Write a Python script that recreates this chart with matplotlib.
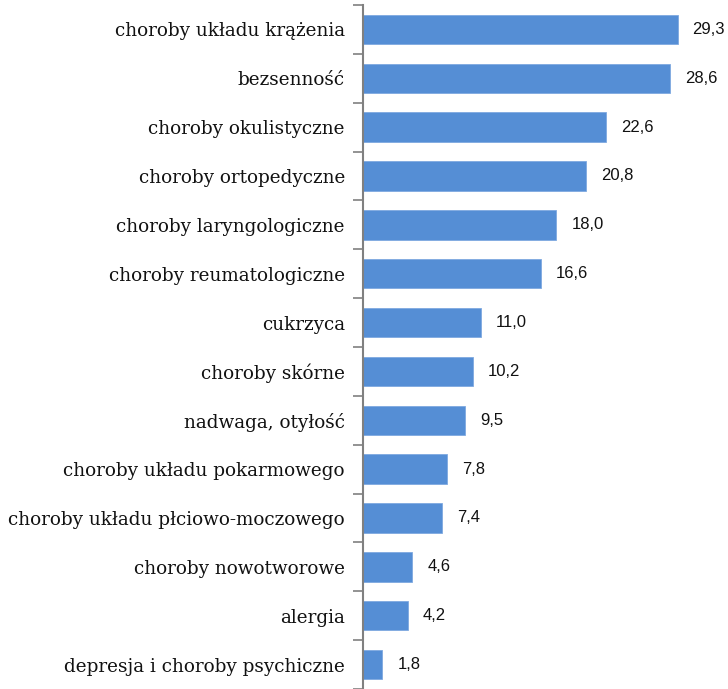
import matplotlib.pyplot as plt

kategorie = [
    "choroby układu krążenia",
    "bezsenność",
    "choroby okulistyczne",
    "choroby ortopedyczne",
    "choroby laryngologiczne",
    "choroby reumatologiczne",
    "cukrzyca",
    "choroby skórne",
    "nadwaga, otyłość",
    "choroby układu pokarmowego",
    "choroby układu płciowo-moczowego",
    "choroby nowotworowe",
    "alergia",
    "depresja i choroby psychiczne",
]
wartosci = [29.3, 28.6, 22.6, 20.8, 18.0, 16.6, 11.0, 10.2, 9.5, 7.8, 7.4, 4.6, 4.2, 1.8]

plt.rcParams['font.family'] = ['DejaVu Serif']

fig = plt.figure(figsize=(7.28, 6.89), dpi=100)
ax = fig.add_axes([363 / 728, 0, 365 / 728, 684 / 689])

y = list(range(len(kategorie)))
ax.barh(y, wartosci, height=0.6, color='#558ED5', edgecolor='#7FA9E0', linewidth=0.6)
ax.set_ylim(len(kategorie) - 0.5, -0.5)
ax.set_xlim(0, 34)

for yi, v in zip(y, wartosci):
    ax.text(v + 1.4, yi, f"{v:.1f}".replace('.', ','), va='center', ha='left',
            fontsize=12, color='#111111', family=['Liberation Sans'])

ax.set_yticks([i + 0.5 for i in range(-1, len(kategorie))])
ax.set_yticklabels([])
ax.set_yticks(y, minor=True)
ax.set_yticklabels(kategorie, minor=True, fontsize=13.2, color='#111111')
ax.tick_params(axis='y', which='major', length=7, width=1.2, color='#808080', direction='out')
ax.tick_params(axis='y', which='minor', length=0, pad=13)
ax.set_xticks([])

for s in ['top', 'right', 'bottom']:
    ax.spines[s].set_visible(False)
ax.spines['left'].set_color('#808080')
ax.spines['left'].set_linewidth(1.5)

fig.savefig('out.png', dpi=100)
